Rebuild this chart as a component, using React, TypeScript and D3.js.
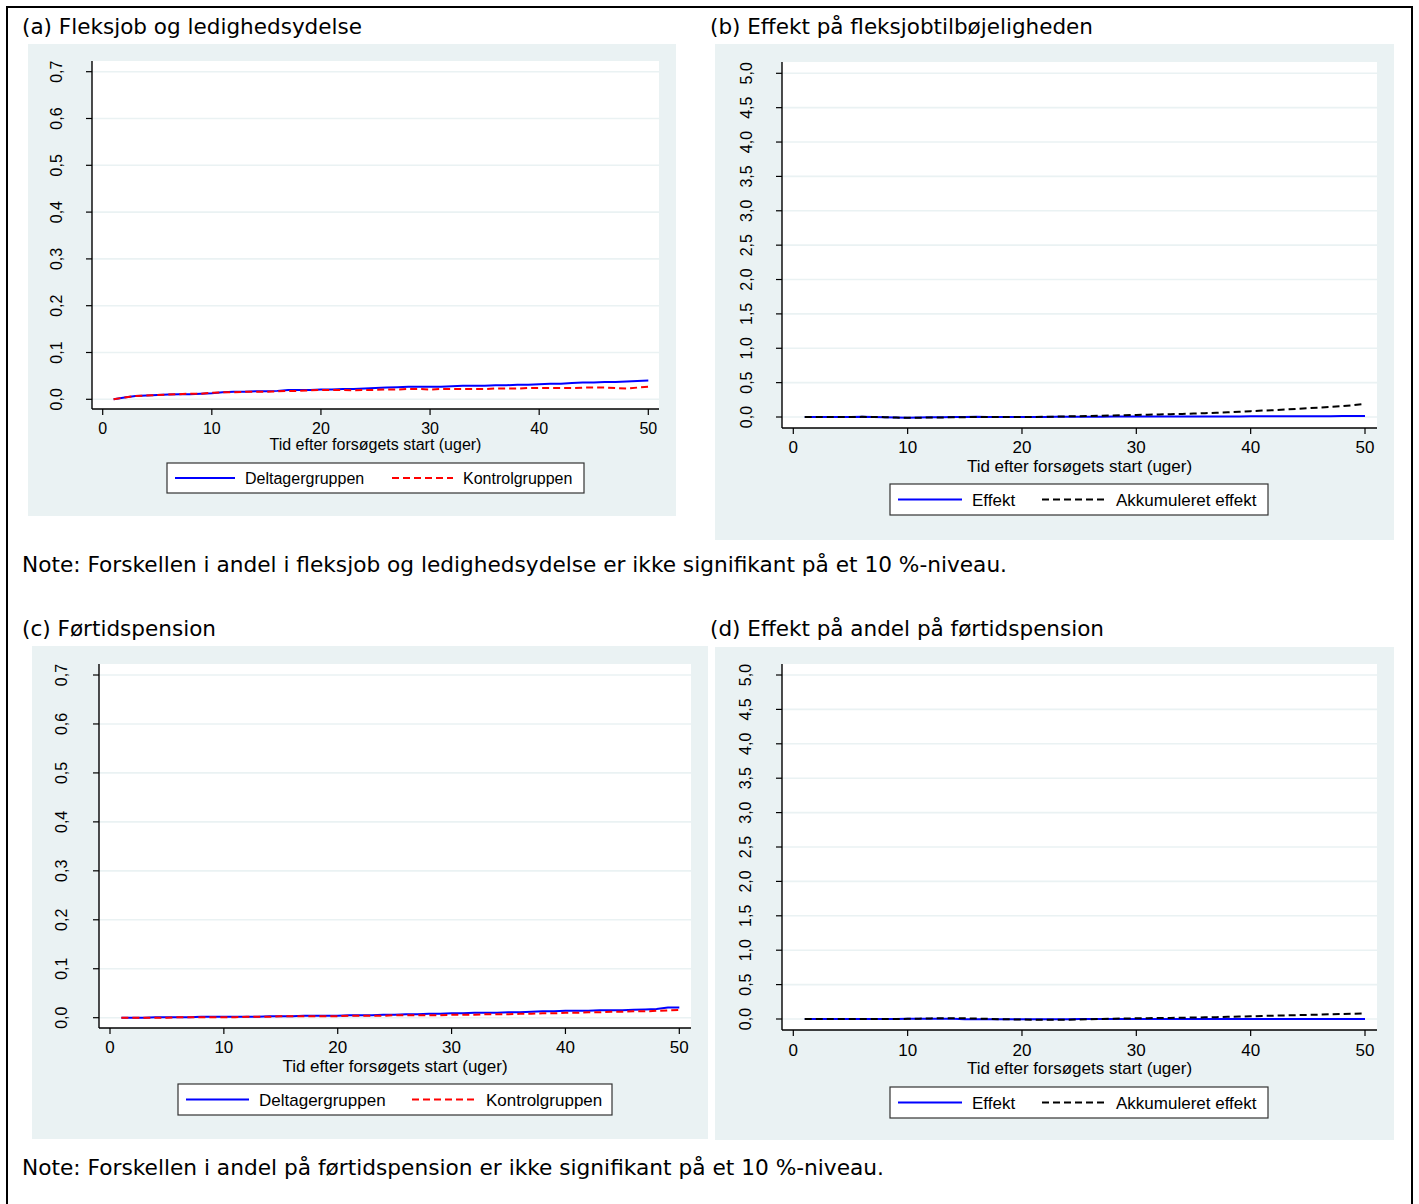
import React from 'react';
import * as d3 from 'd3';

// ---------- DATA ----------
const weeks = [1,2,3,4,5,6,7,8,9,10,11,12,13,14,15,16,17,18,19,20,21,22,23,24,25,26,27,28,29,30,31,32,33,34,35,36,37,38,39,40,41,42,43,44,45,46,47,48,49,50];
const xTicks = [0, 10, 20, 30, 40, 50];
const yTicksShare = [0, 0.1, 0.2, 0.3, 0.4, 0.5, 0.6, 0.7];
const yTicksEffect = [0, 0.5, 1, 1.5, 2, 2.5, 3, 3.5, 4, 4.5, 5];

const aDeltager = [0,0.004,0.007,0.008,0.009,0.010,0.011,0.011,0.012,0.013,0.015,0.016,0.016,0.017,0.017,0.018,0.020,0.020,0.020,0.021,0.021,0.022,0.022,0.023,0.024,0.025,0.026,0.027,0.027,0.027,0.027,0.028,0.029,0.029,0.029,0.030,0.030,0.031,0.031,0.032,0.033,0.033,0.035,0.036,0.036,0.037,0.037,0.038,0.039,0.040];
const aKontrol = [0,0.004,0.007,0.008,0.009,0.010,0.011,0.012,0.012,0.014,0.015,0.015,0.016,0.016,0.016,0.017,0.018,0.018,0.019,0.020,0.020,0.020,0.019,0.020,0.020,0.021,0.021,0.022,0.022,0.021,0.022,0.022,0.022,0.022,0.022,0.023,0.023,0.023,0.024,0.024,0.024,0.024,0.024,0.025,0.025,0.025,0.024,0.023,0.025,0.027];
const bEffekt = [0,0,0,0,0,0.002,0,-0.003,-0.008,-0.01,-0.006,-0.004,-0.003,0,0,0.002,0,0,0,0,0,0,0.002,0.003,0.004,0.004,0.005,0.006,0.006,0.007,0.007,0.007,0.007,0.008,0.008,0.008,0.008,0.009,0.009,0.01,0.01,0.01,0.01,0.011,0.011,0.012,0.012,0.013,0.013,0.014];
const bAkkum = [0,0,0,0,0,0.002,0.001,-0.002,-0.008,-0.012,-0.01,-0.008,-0.006,-0.004,-0.002,0,0,0,0,0,0.001,0.003,0.006,0.009,0.012,0.015,0.019,0.022,0.026,0.03,0.033,0.037,0.041,0.045,0.05,0.056,0.062,0.069,0.077,0.085,0.093,0.1,0.108,0.118,0.128,0.137,0.147,0.158,0.172,0.19];
const cDeltager = [0,0,0,0.001,0.001,0.001,0.001,0.002,0.002,0.002,0.002,0.002,0.002,0.003,0.003,0.003,0.004,0.004,0.004,0.004,0.005,0.005,0.005,0.006,0.006,0.007,0.007,0.008,0.008,0.009,0.009,0.01,0.01,0.01,0.011,0.011,0.012,0.013,0.013,0.014,0.014,0.014,0.015,0.015,0.015,0.016,0.017,0.018,0.021,0.021];
const cKontrol = [0,0,0,0,0,0.001,0.001,0.001,0.001,0.001,0.001,0.002,0.002,0.002,0.003,0.003,0.003,0.003,0.003,0.003,0.004,0.004,0.004,0.004,0.005,0.005,0.005,0.005,0.005,0.006,0.006,0.006,0.007,0.007,0.007,0.008,0.008,0.009,0.009,0.01,0.01,0.011,0.011,0.012,0.012,0.013,0.013,0.014,0.015,0.016];
const dEffekt = [0,0,0,0,0,0,0,0,0,0.002,0.003,0.004,0.004,0.002,-0.002,-0.004,-0.005,-0.005,-0.005,-0.005,-0.005,-0.004,-0.003,-0.002,-0.001,0,0,0,0,0,0,0,0,0,0,0,0,0,0,0,0,0,0,0,0,0,0,0,0,0];
const dAkkum = [0,0,0,0,0,0,0,0,0,0.002,0.005,0.009,0.012,0.012,0.01,0.006,0.002,-0.002,-0.005,-0.008,-0.01,-0.011,-0.011,-0.01,-0.008,-0.004,0,0.004,0.007,0.01,0.012,0.014,0.016,0.018,0.021,0.024,0.027,0.031,0.035,0.04,0.044,0.048,0.052,0.056,0.06,0.064,0.068,0.072,0.077,0.083];

const titles = ['(a) Fleksjob og ledighedsydelse', '(b) Effekt på fleksjobtilbøjeligheden', '(c) Førtidspension', '(d) Effekt på andel på førtidspension'];
const notes = ['Note: Forskellen i andel i fleksjob og ledighedsydelse er ikke signifikant på et 10 %-niveau.', 'Note: Forskellen i andel på førtidspension er ikke signifikant på et 10 %-niveau.'];
const xTitle = 'Tid efter forsøgets start (uger)';
const groupLabels = ['Deltagergruppen', 'Kontrolgruppen'];
const effectLabels = ['Effekt', 'Akkumuleret effekt'];

// ---------- LAYOUT ----------
const BG = '#eaf2f3';
const LBL = '"Liberation Sans", Arial, Helvetica, sans-serif';
const TTL = '"DejaVu Sans", Verdana, sans-serif';

const headTexts = [
  { t: titles[0], x: 22, y: 34, w: 340 },
  { t: titles[1], x: 710, y: 34, w: 383 },
  { t: notes[0], x: 22, y: 572, w: 985 },
  { t: titles[2], x: 22, y: 636, w: 194 },
  { t: titles[3], x: 710, y: 636, w: 394 },
  { t: notes[1], x: 22, y: 1175, w: 862 },
];

const layouts = [
  { bg: [28, 44, 676, 516], pl: 92, pr: 659, pt: 61, pb: 409, x0: 102.7, x50: 648.3, y0: 399.3, yTop: 71.7, ylx: 62, xlb: 434, xtb: 450, fs: 16, fsv: 16,
    leg: [167, 463, 584, 493], items: [[175, 235, 245], [392, 453, 463]] },
  { bg: [715, 44, 1394, 540], pl: 782, pr: 1377, pt: 62, pb: 428, x0: 793.3, x50: 1365, y0: 417, yTop: 73.3, ylx: 752, xlb: 453, xtb: 472, fs: 17, fsv: 16,
    leg: [890, 484, 1268, 515], items: [[898, 962, 972], [1042, 1105, 1116]] },
  { bg: [32, 646, 708, 1139], pl: 99, pr: 691, pt: 664, pb: 1028, x0: 110, x50: 679.3, y0: 1017.7, yTop: 675, ylx: 66.5, xlb: 1053, xtb: 1072, fs: 17, fsv: 16,
    leg: [178, 1084, 612, 1115], items: [[186, 249, 259], [412, 475, 486]] },
  { bg: [715, 647, 1394, 1140], pl: 782, pr: 1377, pt: 664, pb: 1030, x0: 793.3, x50: 1365, y0: 1019, yTop: 675, ylx: 751, xlb: 1056, xtb: 1074, fs: 17, fsv: 16,
    leg: [890, 1087, 1268, 1118], items: [[898, 962, 972], [1042, 1105, 1116]] },
];

const fmt = (v: number) => d3.format('.1f')(v).replace('.', ',');

type Series = { values: number[]; color: string; dash?: string };

function Panel({ L, yMax, yTicks, series, labels }: { L: any; yMax: number; yTicks: number[]; series: Series[]; labels: string[] }) {
  const x = d3.scaleLinear().domain([0, 50]).range([L.x0, L.x50]);
  const y = d3.scaleLinear().domain([0, yMax]).range([L.y0, L.yTop]);
  const line = d3.line<number>().x((_, i) => x(weeks[i])).y((v) => y(v));
  const [bx0, by0, bx1, by1] = L.bg;
  const [lx0, ly0, lx1, ly1] = L.leg;
  const lcy = (ly0 + ly1) / 2;
  return (
    <g>
      <rect x={bx0} y={by0} width={bx1 - bx0} height={by1 - by0} fill={BG} />
      <rect x={L.pl} y={L.pt} width={L.pr - L.pl} height={L.pb - L.pt} fill="#ffffff" />
      {yTicks.map((t) => (
        <line key={'g' + t} x1={L.pl} x2={L.pr} y1={y(t)} y2={y(t)} stroke={BG} strokeWidth={1.6} />
      ))}
      {series.map((s, i) => (
        <path key={'s' + i} d={line(s.values) || ''} fill="none" stroke={s.color} strokeWidth={2} strokeDasharray={s.dash} />
      ))}
      <line x1={L.pl} x2={L.pl} y1={L.pt} y2={L.pb} stroke="#000" strokeWidth={1.4} />
      <line x1={L.pl} x2={L.pr} y1={L.pb} y2={L.pb} stroke="#000" strokeWidth={1.4} />
      {yTicks.map((t) => (
        <g key={'yt' + t}>
          <line x1={L.pl - 6} x2={L.pl} y1={y(t)} y2={y(t)} stroke="#000" strokeWidth={1.2} />
          <text transform={`translate(${L.ylx},${y(t)}) rotate(-90)`} textAnchor="middle" fontFamily={LBL} fontSize={L.fsv} fill="#000">
            {fmt(t)}
          </text>
        </g>
      ))}
      {xTicks.map((t) => (
        <g key={'xt' + t}>
          <line x1={x(t)} x2={x(t)} y1={L.pb} y2={L.pb + 6} stroke="#000" strokeWidth={1.2} />
          <text x={x(t)} y={L.xlb} textAnchor="middle" fontFamily={LBL} fontSize={L.fs} fill="#000">
            {t}
          </text>
        </g>
      ))}
      <text x={(L.pl + L.pr) / 2} y={L.xtb} textAnchor="middle" fontFamily={LBL} fontSize={L.fs} fill="#000">
        {xTitle}
      </text>
      <rect x={lx0} y={ly0} width={lx1 - lx0} height={ly1 - ly0} fill="#fff" stroke="#333" strokeWidth={1.2} />
      {series.map((s, i) => (
        <g key={'l' + i}>
          <line x1={L.items[i][0]} x2={L.items[i][1]} y1={lcy} y2={lcy} stroke={s.color} strokeWidth={1.8} strokeDasharray={s.dash} />
          <text x={L.items[i][2]} y={lcy + L.fs * 0.36} fontFamily={LBL} fontSize={L.fs} fill="#000">
            {labels[i]}
          </text>
        </g>
      ))}
    </g>
  );
}

export default function App() {
  const dash = '7,4';
  return (
    <svg width={1419} height={1204} style={{ position: 'absolute', left: 0, top: 0, background: '#fff' }}>
      <rect x={0} y={0} width={1419} height={1204} fill="#fff" />
      <rect x={7} y={7} width={1405} height={1210} fill="none" stroke="#000" strokeWidth={2} />
      {headTexts.map((h, i) => (
        <text key={'h' + i} x={h.x} y={h.y} fontFamily={TTL} fontSize={21} textLength={h.w} lengthAdjust="spacingAndGlyphs" fill="#000">
          {h.t}
        </text>
      ))}
      <Panel L={layouts[0]} yMax={0.7} yTicks={yTicksShare} labels={groupLabels}
        series={[{ values: aDeltager, color: '#0000ff' }, { values: aKontrol, color: '#ff0000', dash }]} />
      <Panel L={layouts[1]} yMax={5} yTicks={yTicksEffect} labels={effectLabels}
        series={[{ values: bEffekt, color: '#0000ff' }, { values: bAkkum, color: '#000000', dash }]} />
      <Panel L={layouts[2]} yMax={0.7} yTicks={yTicksShare} labels={groupLabels}
        series={[{ values: cDeltager, color: '#0000ff' }, { values: cKontrol, color: '#ff0000', dash }]} />
      <Panel L={layouts[3]} yMax={5} yTicks={yTicksEffect} labels={effectLabels}
        series={[{ values: dEffekt, color: '#0000ff' }, { values: dAkkum, color: '#000000', dash }]} />
    </svg>
  );
}
